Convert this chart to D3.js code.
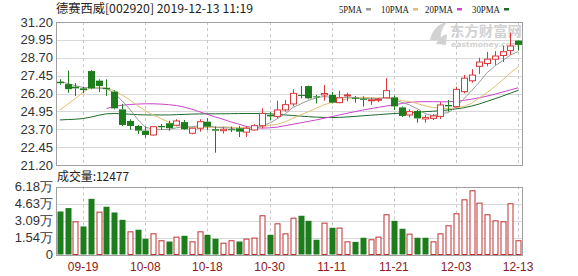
<!DOCTYPE html>
<html><head><meta charset="utf-8">
<script src="https://cdn.jsdelivr.net/npm/d3@7"></script>
<style>body{margin:0;background:#fff}svg{display:block}</style>
</head><body><svg id="c" width="578" height="276"></svg>
<script>
const dates = ["09-16","09-17","09-18","09-19","09-20","09-23","09-24","09-25","09-26","09-27","09-30",
"10-08","10-09","10-10","10-11","10-14","10-15","10-16","10-17","10-18","10-21","10-22","10-23","10-24","10-25","10-28","10-29","10-30","10-31",
"11-01","11-04","11-05","11-06","11-07","11-08","11-11","11-12","11-13","11-14","11-15","11-18","11-19","11-20","11-21","11-22","11-25","11-26","11-27","11-28","11-29",
"12-02","12-03","12-04","12-05","12-06","12-09","12-10","12-11","12-12","12-13"];
const open  = [27.02,26.86,26.68,26.56,27.77,27.10,26.60,26.33,25.09,24.28,23.93,23.60,23.30,23.93,24.12,23.98,24.20,23.42,23.77,24.23,23.70,23.60,23.70,23.77,23.50,23.65,23.95,24.70,24.60,25.05,25.47,26.10,26.72,26.00,26.10,26.10,25.56,26.05,25.90,25.83,25.70,25.76,25.90,25.93,25.23,24.70,24.98,24.42,24.46,24.60,25.40,25.28,26.33,27.09,28.10,28.30,28.60,28.86,29.20,29.90];
const close = [26.92,26.50,26.56,26.44,26.56,26.72,26.50,25.16,24.00,23.93,23.60,23.30,23.88,23.84,23.77,24.28,23.70,23.77,24.23,23.88,23.60,23.70,23.65,23.53,23.77,23.95,24.81,24.60,25.05,25.42,26.21,26.05,25.86,25.93,26.20,25.56,25.90,26.10,25.83,25.76,25.76,25.80,26.40,25.30,24.63,24.93,24.46,24.53,24.63,25.40,25.30,26.49,27.27,27.49,28.40,28.60,28.82,29.12,29.52,29.60];
const high  = [27.20,27.80,26.93,26.68,27.84,27.19,27.19,26.44,25.47,24.40,24.00,23.88,23.90,24.07,24.30,24.40,24.35,23.80,24.40,24.47,23.90,23.85,23.88,23.93,23.90,24.05,25.16,24.90,25.70,25.75,26.50,26.72,26.75,26.10,26.79,26.30,26.40,26.25,26.03,26.00,25.90,25.90,27.27,26.05,25.30,25.10,25.05,24.70,24.77,25.60,25.75,26.67,27.49,27.90,28.70,29.10,29.16,29.55,30.45,29.95];
const low   = [26.80,26.25,26.03,26.21,26.49,26.30,26.03,25.09,23.93,23.65,23.37,23.11,23.25,23.65,23.60,23.90,23.65,23.35,23.53,23.65,22.06,23.40,23.50,23.16,23.16,23.60,23.77,24.33,24.47,24.93,25.30,25.86,25.80,25.51,25.70,25.50,25.51,25.65,25.56,25.28,25.40,25.60,25.86,25.05,24.56,24.53,24.16,24.16,24.35,24.42,24.93,25.23,26.21,26.96,27.56,28.10,28.20,28.40,28.90,29.20];
// volume in 万 shares
const volume = [3.91,4.22,2.97,2.55,5.06,3.85,4.34,3.82,3.15,2.06,2.25,1.43,1.88,1.25,1.18,1.58,1.70,1.15,2.06,1.79,1.43,1.03,1.25,1.18,1.40,1.49,3.52,1.79,2.79,1.88,3.30,3.52,3.06,1.34,2.85,2.43,2.40,1.15,1.15,1.52,1.34,1.58,3.61,3.06,2.34,1.85,1.52,1.52,1.15,1.88,2.61,3.70,4.97,5.79,4.67,3.61,3.06,2.97,4.61,1.25];
// 1 = red hollow volume bar, 0 = green filled
const volUp = [0,0,1,0,0,1,0,0,0,1,0,0,1,1,0,1,0,1,1,0,0,1,1,0,1,1,1,0,1,1,1,0,0,0,1,0,1,1,0,0,1,1,1,0,0,1,0,0,1,1,1,1,1,1,1,1,1,1,1,1];
const ma5  = [27.05,26.90,26.75,26.62,26.60,26.56,26.56,26.20,25.70,25.10,24.40,23.85,23.70,23.68,23.68,23.80,23.88,23.87,23.95,23.95,23.84,23.82,23.78,23.67,23.65,23.72,23.94,24.13,24.44,24.77,25.22,25.47,25.72,25.89,26.00,25.92,25.89,25.94,25.92,25.83,25.87,25.85,25.91,25.80,25.58,25.41,25.14,24.80,24.64,24.79,24.86,25.27,25.82,26.39,26.99,27.65,28.12,28.49,28.89,29.13];
const ma10 = [25.05,25.45,25.85,26.30,26.60,26.62,26.56,26.40,26.10,25.75,25.35,25.00,24.70,24.45,24.20,24.00,23.88,23.81,23.83,23.83,23.83,23.87,23.84,23.81,23.81,23.78,23.89,23.97,24.05,24.21,24.47,24.70,24.93,25.17,25.41,25.57,25.68,25.83,25.91,25.94,25.90,25.87,25.92,25.86,25.70,25.64,25.50,25.34,25.22,25.18,25.14,25.21,25.29,25.51,25.89,26.26,26.69,27.15,27.64,28.06];
const ma20 = [null,null,null,null,null,null,25.15,25.30,25.38,25.43,25.46,25.48,25.48,25.46,25.42,25.36,25.25,25.10,24.92,24.74,24.56,24.40,24.22,24.06,23.90,23.80,23.78,23.80,23.85,23.95,24.05,24.15,24.25,24.35,24.47,24.58,24.70,24.82,24.93,25.04,25.14,25.23,25.32,25.40,25.50,25.57,25.62,25.63,25.63,25.62,25.62,25.65,25.72,25.80,25.90,26.02,26.15,26.30,26.45,26.60];
const ma30 = [24.35,24.38,24.40,24.45,24.55,24.68,24.78,24.80,24.78,24.75,24.72,24.70,24.70,24.70,24.70,24.72,24.74,24.76,24.77,24.78,24.78,24.78,24.79,24.80,24.80,24.80,24.80,24.78,24.74,24.70,24.66,24.62,24.58,24.55,24.53,24.52,24.53,24.56,24.60,24.64,24.68,24.72,24.76,24.80,24.83,24.86,24.90,24.93,24.96,25.00,25.05,25.12,25.20,25.32,25.47,25.65,25.83,26.02,26.22,26.42];
const priceTicks = [31.20,29.95,28.70,27.45,26.20,24.95,23.70,22.45,21.20];
const volTicks = [6.18,4.635,3.09,1.545,0];
const volTickLabels = ["6.18万","4.63万","3.09万","1.54万","0"];
const xTickLabels = ["09-19","10-08","10-18","10-30","11-11","11-21","12-03","12-13"];
const maNames = ["5PMA","10PMA","20PMA","30PMA"];
const title = "德赛西威[002920] 2019-12-13 11:19";
const volLabel = "成交量:12477";

const RED = "#d9373a", GREEN = "#1d7d1d";
const maColors = ["#9a9a9a","#e0c070","#cc44cc","#1c6b2c"];
const svg = d3.select("#c");
const L = 56, R = 522, PT = 22, PB = 165, VT = 186.5, VB = 254.5;

const x = d3.scaleBand().domain(dates).range([L, R]).paddingInner(0.25).paddingOuter(0.125);
const cx = d => x(d) + x.bandwidth()/2;
const y = d3.scaleLinear().domain([21.2, 31.2]).range([PB, PT]);
const yv = d3.scaleLinear().domain([0, 6.18]).range([VB, VT]);

// grids
function grid(g, ys, top, bot){
  g.selectAll("line.h").data(ys).join("line").attr("x1",L).attr("x2",R)
   .attr("y1",d=>Math.round(d)+0.5).attr("y2",d=>Math.round(d)+0.5).attr("stroke","#d8d8d8");
  g.selectAll("line.v").data(xTickLabels).join("line").attr("class","v")
   .attr("x1",d=>Math.round(cx(d))+0.5).attr("x2",d=>Math.round(cx(d))+0.5)
   .attr("y1",top).attr("y2",bot).attr("stroke","#c8c8c8").attr("stroke-dasharray","3,3");
  g.append("rect").attr("x",L+0.5).attr("y",Math.round(top)+0.5).attr("width",R-L).attr("height",Math.round(bot)-Math.round(top))
   .attr("fill","none").attr("stroke","#a0a0a0");
}
grid(svg.append("g"), priceTicks.map(y), PT, PB);
grid(svg.append("g"), volTicks.map(yv), VT, VB);

// watermark
const wm = svg.append("g").attr("fill","#d2d2d2");
wm.append("path").attr("d","M430 40 C432 30,438 24,447 22 C442 28,440 33,441 40 Z M436 44 C439 38,443 35,447 34 L446 45 Z");
wm.append("text").attr("x",450).attr("y",36).attr("font-family","Noto Sans CJK SC").attr("font-size",14).attr("font-weight","bold")
  .attr("textLength",72).attr("lengthAdjust","spacingAndGlyphs").text("东方财富网");
wm.append("text").attr("x",451).attr("y",47).attr("font-family","DejaVu Sans").attr("font-size",7.5).attr("font-weight","bold")
  .attr("textLength",68).attr("lengthAdjust","spacingAndGlyphs").text("eastmoney.com");

// axes labels
const lab = svg.append("g").attr("font-family","Liberation Sans, Arial, sans-serif").attr("font-size",13).attr("fill","#333").attr("text-anchor","end");
lab.selectAll("text.p").data(priceTicks).join("text").attr("class","p").attr("x",53).attr("y",d=>y(d)+4.5).text(d=>d.toFixed(2));
lab.selectAll("text.v").data(volTicks).join("text").attr("class","v").attr("x",53).attr("y",d=>yv(d)+4.5).text((d,i)=>volTickLabels[i]);
svg.append("g").attr("font-family","Liberation Sans, Arial, sans-serif").attr("font-size",12).attr("fill","#8b2020").attr("text-anchor","middle")
  .selectAll("text").data(xTickLabels).join("text").attr("x",d=>cx(d)).attr("y",271).text(d=>d);

// title
svg.append("text").attr("x",56).attr("y",13).attr("font-family","Noto Sans CJK SC").attr("font-size",12).attr("fill","#222")
  .attr("textLength",197).attr("lengthAdjust","spacingAndGlyphs").text(title);
svg.append("text").attr("x",57).attr("y",181).attr("font-family","Noto Sans CJK SC").attr("font-size",12).attr("fill","#222")
  .attr("textLength",72).attr("lengthAdjust","spacingAndGlyphs").text(volLabel);

// legend
const legX = [339,381,425,472], legW=[23,28,28,28];
const leg = svg.append("g");
maNames.forEach((n,i)=>{
  leg.append("text").attr("x",legX[i]).attr("y",13).attr("font-family","Liberation Serif, serif").attr("font-size",11).attr("fill","#222")
    .attr("textLength",legW[i]).attr("lengthAdjust","spacingAndGlyphs").text(n);
  leg.append("rect").attr("x",legX[i]+legW[i]+4).attr("y",8).attr("width",5).attr("height",2.5).attr("fill",maColors[i]);
});

// MA lines
const mas = [ma5, ma10, ma20, ma30];
const lineGen = d3.line().defined(d=>d[1]!=null).x(d=>cx(d[0])).y(d=>y(d[1]));
[3,2,1,0].forEach(k=>{
  svg.append("path").datum(dates.map((d,i)=>[d,mas[k][i]])).attr("d",lineGen)
    .attr("fill","none").attr("stroke",maColors[k]).attr("stroke-width",1);
});

// candles
const idx = d3.range(dates.length);
const bw = 6;
const cg = svg.append("g");
idx.forEach(i=>{
  const up = close[i] >= open[i];
  const col = up ? RED : GREEN;
  const xc = Math.round(cx(dates[i])) + 0.5;
  const yT = y(Math.max(open[i],close[i])), yB = y(Math.min(open[i],close[i]));
  cg.append("line").attr("x1",xc).attr("x2",xc).attr("y1",y(high[i])).attr("y2",yT).attr("stroke",col);
  cg.append("line").attr("x1",xc).attr("x2",xc).attr("y1",yB).attr("y2",y(low[i])).attr("stroke",col);
  const h = Math.max(1, yB - yT);
  if (up) {
    cg.append("rect").attr("x",xc-bw/2).attr("y",yT).attr("width",bw).attr("height",h).attr("fill","#fff").attr("stroke",col);
  } else {
    cg.append("rect").attr("x",xc-bw/2-0.5).attr("y",yT).attr("width",bw+1).attr("height",h).attr("fill",col);
  }
});

// volume bars
const vg = svg.append("g");
idx.forEach(i=>{
  const xc = Math.round(cx(dates[i])) + 0.5;
  const yt = yv(volume[i]);
  if (volUp[i]) {
    vg.append("rect").attr("x",xc-2.5).attr("y",yt).attr("width",5).attr("height",VB-yt).attr("fill","#fff").attr("stroke","#c03030");
  } else {
    vg.append("rect").attr("x",xc-3).attr("y",yt).attr("width",6).attr("height",VB-yt).attr("fill",GREEN);
  }
});
</script></body></html>
